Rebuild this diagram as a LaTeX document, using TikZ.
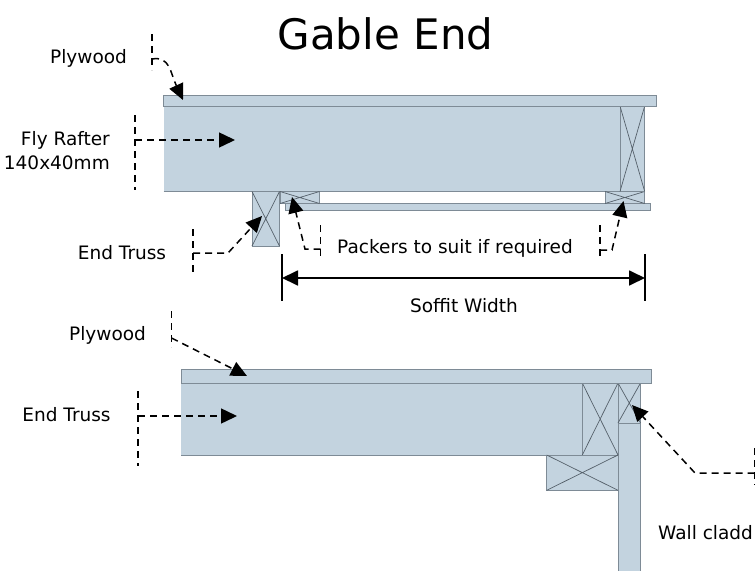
\documentclass[tikz,border=0pt]{standalone}
\usepackage{fontspec}
\setmainfont{DejaVu Sans}
\usetikzlibrary{arrows.meta}
\definecolor{panel}{HTML}{C3D3DF}
\definecolor{edge}{HTML}{7E8B96}
\definecolor{xline}{HTML}{55606A}
\tikzset{
  timber/.style={fill=panel,draw=edge,line width=1pt},
  crossline/.style={draw=xline,line width=0.7pt},
  leader/.style={draw=black,line width=1.5pt,dash pattern=on 7pt off 5pt},
  leadarrow/.style={leader,-{Triangle[length=16pt,width=15pt]}},
  label/.style={font=\fontsize{18.5}{22}\selectfont,inner sep=0pt,text=black},
  dimline/.style={draw=black,line width=1.8pt}
}
\newcommand{\crossbox}[4]{%
  \fill[panel] (#1,#2) rectangle (#3,#4);
  \draw[timber,fill=none] (#1,#2) rectangle (#3,#4);
  \draw[crossline] (#1,#2) -- (#3,#4) (#3,#2) -- (#1,#4);
}
\begin{document}
\begin{tikzpicture}[x=1pt,y=-1pt]
\useasboundingbox (0,0) rectangle (756,571);
\clip (0,0) rectangle (756,571);
% top assembly
\fill[panel] (163.5,106) rectangle (620,191.5);
\draw[edge,line width=1pt] (163.5,191.5) -- (620,191.5);
\draw[timber] (285,203.5) rectangle (650.7,210);
\crossbox{252}{191.5}{279.5}{246}
\crossbox{280}{191.5}{319.5}{203.5}
\crossbox{605}{191.5}{644.7}{203.5}
\crossbox{620}{106}{644.7}{191.5}
\draw[timber] (163.5,95) rectangle (656.7,106);
% bottom assembly
\fill[panel] (181,383) rectangle (582.3,455);
\draw[edge,line width=1pt] (181,455) -- (582.3,455);
\fill[panel] (618,423) rectangle (640.5,575);
\draw[edge,line width=1pt] (618,423) -- (618,575) (640.5,423) -- (640.5,575);
\crossbox{582.3}{383}{618}{455}
\crossbox{618}{383}{640.5}{423}
\crossbox{546.7}{455}{618}{490.3}
\draw[timber] (181,369) rectangle (651,383);
% labels
\node[inner sep=0pt,font=\fontsize{42}{50}\selectfont] (title) at (385.5,34) {Gable End};
\node[label] (tPly) at (88.5,58) {Plywood};
\node[label,align=right,anchor=east] (tFly) at (110,151) {Fly Rafter\\[2pt]140x40mm};
\node[label] (tEnd) at (122,253) {End Truss};
\node[label] (tPack) at (455,248.5) {Packers to suit if required};
\node[label] (tSoffit) at (464,306) {Soffit Width};
\node[label] (bPly) at (107.5,335) {Plywood};
\node[label] (bEnd) at (66.5,415) {End Truss};
\node[label,anchor=west] (bWall) at (658,533) {Wall cladd};
% leader coordinates
\coordinate (a1) at (152,34); \coordinate (a2) at (152,70);
\coordinate (a3) at (152,59); \coordinate (a4) at (183,100);
\coordinate (b1) at (135,115); \coordinate (b2) at (135,190);
\coordinate (b3) at (135,140); \coordinate (b4) at (235,140);
\coordinate (c1) at (193,229); \coordinate (c2) at (193,273);
\coordinate (c3) at (193,253); \coordinate (c4) at (228,253); \coordinate (c5) at (262,216);
\coordinate (d1) at (320.5,225); \coordinate (d2) at (320.5,260);
\coordinate (d3) at (320.5,249); \coordinate (d4) at (305,249); \coordinate (d5) at (292,197);
\coordinate (e1) at (600,225); \coordinate (e2) at (600,261);
\coordinate (e3) at (600,250); \coordinate (e4) at (612,250); \coordinate (e5) at (623.5,201);
\coordinate (f1) at (282,254); \coordinate (f2) at (282,301);
\coordinate (f3) at (645,254); \coordinate (f4) at (645,301);
\coordinate (f5) at (282,278); \coordinate (f6) at (645,278);
\coordinate (g1) at (171.5,311); \coordinate (g2) at (171.5,347);
\coordinate (g3) at (171.5,338); \coordinate (g4) at (247,376);
\coordinate (h1) at (138,391); \coordinate (h2) at (138,466);
\coordinate (h3) at (138,416); \coordinate (h4) at (237,416);
\coordinate (i1) at (754.5,448); \coordinate (i2) at (754.5,485);
\coordinate (i3) at (754.5,473); \coordinate (i4) at (695,473); \coordinate (i5) at (632,405);
% leaders
\draw[leader] (a1) -- (a2);
\draw[leadarrow] (a3) .. controls (170,56) and (170,72) .. (a4);
\draw[leader] (b1) -- (b2);
\draw[leadarrow] (b3) -- (b4);
\draw[leader] (c1) -- (c2);
\draw[leadarrow] (c3) -- (c4) -- (c5);
\draw[leader] (d1) -- (d2);
\draw[leadarrow] (d3) -- (d4) -- (d5);
\draw[leader] (e1) -- (e2);
\draw[leadarrow] (e3) -- (e4) -- (e5);
\draw[leader] (g1) -- (g2);
\draw[leadarrow] (g3) -- (g4);
\draw[leader] (h1) -- (h2);
\draw[leadarrow] (h3) -- (h4);
\draw[leader] (i1) -- (i2);
\draw[leadarrow] (i3) -- (i4) -- (i5);
% dimension
\draw[dimline] (f1) -- (f2);
\draw[dimline] (f3) -- (f4);
\draw[dimline,{Triangle[length=16pt,width=15pt]}-{Triangle[length=16pt,width=15pt]}] (f5) -- (f6);
\end{tikzpicture}
\end{document}
